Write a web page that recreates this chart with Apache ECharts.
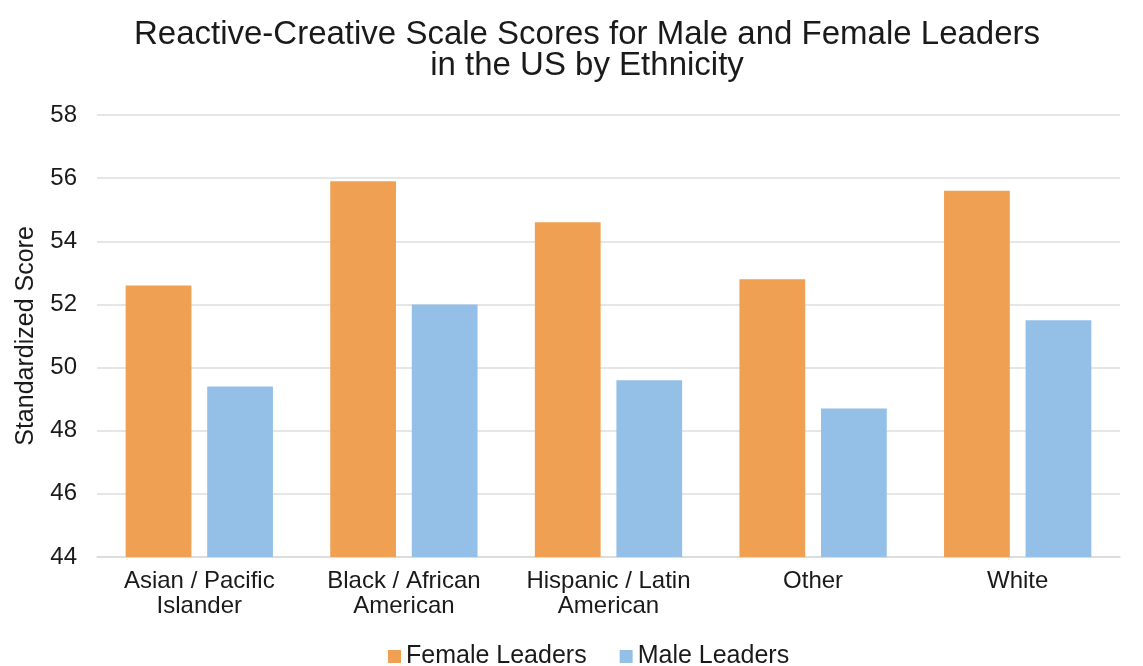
<!DOCTYPE html>
<html>
<head>
<meta charset="utf-8">
<script src="https://cdn.jsdelivr.net/npm/echarts@6/dist/echarts.min.js"></script>
<style>
  html, body { margin: 0; padding: 0; background: #fff; }
  #main { width: 1143px; height: 666px; }
</style>
</head>
<body>
<div id="main"></div>
<script>
// chart data
var categories = ['Asian / Pacific\nIslander', 'Black / African\nAmerican', 'Hispanic / Latin\nAmerican', 'Other', 'White'];
var femaleScores = [52.6, 55.9, 54.6, 52.8, 55.6];
var maleScores = [49.4, 52.0, 49.6, 48.7, 51.5];
var seriesNames = ['Female Leaders', 'Male Leaders'];

var font = 'Liberation Sans, Arial, Helvetica, sans-serif';
var myChart = echarts.init(document.getElementById('main'), null, { renderer: 'canvas' });

var option = {
    backgroundColor: '#ffffff',
    title: {
        text: 'Reactive-Creative Scale Scores for Male and Female Leaders\nin the US by Ethnicity',
        left: 582,
        top: 14,
        textAlign: 'center',
        textStyle: {
            fontFamily: font,
            fontSize: 33,
            fontWeight: 'normal',
            color: '#1a1a1a',
            lineHeight: 31
        }
    },
    legend: {
        data: seriesNames,
        bottom: -8,
        left: 383,
        itemWidth: 13,
        itemHeight: 13,
        itemGap: 33,
        icon: 'rect',
        textStyle: { fontFamily: font, fontSize: 25, color: '#1a1a1a' }
    },
    grid: {
        left: 97,
        right: 23,
        top: 115,
        bottom: 109
    },
    xAxis: {
        type: 'category',
        data: categories,
        axisTick: { show: false },
        axisLine: { lineStyle: { color: '#d9d9d9', width: 1.5 } },
        axisLabel: {
            fontFamily: font,
            fontSize: 24,
            color: '#1a1a1a',
            lineHeight: 25,
            margin: 12,
            interval: 0
        }
    },
    yAxis: {
        type: 'value',
        min: 44,
        max: 58,
        interval: 2,
        name: 'Standardized Score',
        nameLocation: 'middle',
        nameGap: 58,
        nameTextStyle: { fontFamily: font, fontSize: 25, color: '#1a1a1a' },
        axisLine: { show: false },
        axisTick: { show: false },
        axisLabel: { fontFamily: font, fontSize: 24, color: '#1a1a1a', margin: 20 },
        splitLine: { lineStyle: { color: '#dedede', width: 1.5 } }
    },
    series: [
        {
            name: seriesNames[0],
            type: 'bar',
            data: femaleScores,
            itemStyle: { color: '#EFA052' },
            barGap: '24%',
            barCategoryGap: '28%'
        },
        {
            name: seriesNames[1],
            type: 'bar',
            data: maleScores,
            itemStyle: { color: '#94C0E7' }
        }
    ]
};

if (option)
    myChart.setOption(option);
</script>
</body>
</html>
